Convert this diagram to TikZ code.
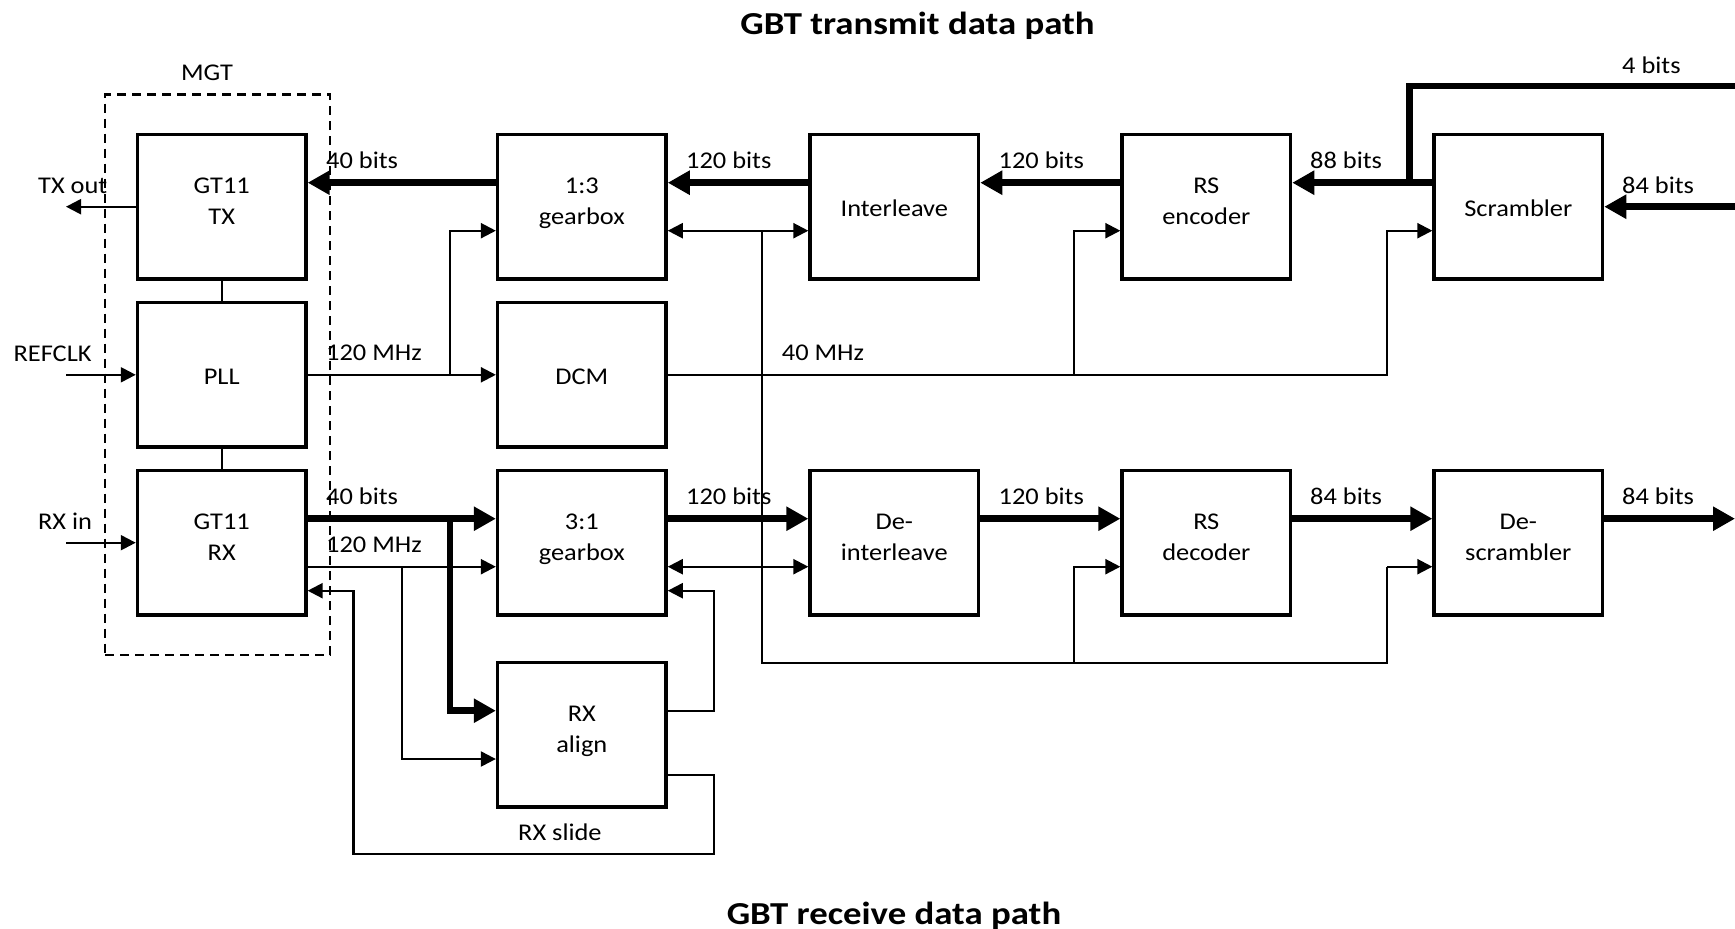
\documentclass[tikz,border=0pt]{standalone}
\usepackage{fontspec}
\setmainfont{Carlito}[FakeStretch=1.10]
\newfontfamily\hdrfont{Carlito}[FakeStretch=1.15]
\usetikzlibrary{arrows.meta,calc}

% block caption: centred lines, nudged vertically without changing the box extent
\newcommand\bx[2][4pt]{\raisebox{#1}[\height][\depth]{\begin{tabular}{@{}c@{}}#2\end{tabular}}}

\begin{document}
\begin{tikzpicture}[x=1pt,y=-1pt,
  blk/.style={draw,line width=3.3pt,minimum width=168.6pt,minimum height=144.6pt,
    inner sep=0pt,font=\fontsize{24}{31.5}\selectfont},
  lbl/.style={anchor=base west,inner sep=0pt,font=\fontsize{24}{28}\selectfont},
  hdr/.style={anchor=base,inner sep=0pt,font=\hdrfont\bfseries\fontsize{32}{38}\selectfont},
  mgtbox/.style={draw,line width=2.5pt,dash pattern=on 9pt off 6pt,
    minimum width=225pt,minimum height=560.7pt,inner sep=0pt},
  wire/.style={line width=2.2pt},
  bus/.style={line width=6.5pt},
  sig/.style={wire,-{Triangle[length=15pt,width=15pt]}},
  sigboth/.style={wire,{Triangle[length=15pt,width=15pt]}-{Triangle[length=15pt,width=15pt]}},
  data/.style={bus,-{Triangle[length=22pt,width=23pt]}},
]
\useasboundingbox (0,0) rectangle (1735,929);

% titles
\node[hdr] (ttx) at (917.5,34) {GBT transmit data path};
\node[hdr] (trx) at (894,924.3) {GBT receive data path};

% MGT container
\node[mgtbox] (mgt) at (217.5,374.7) {};
\node[anchor=base,inner sep=0pt,font=\fontsize{24}{28}\selectfont] (mgtl) at (207,80.7) {MGT};

% blocks
\node[blk] (tx)  at (221.7,206.7) {\bx{GT11\\TX}};
\node[blk] (pll) at (221.7,374.8) {\bx[-3.5pt]{PLL}};
\node[blk] (rx)  at (221.7,542.7) {\bx{GT11\\RX}};
\node[blk] (gb1) at (581.8,206.7) {\bx{1:3\\gearbox}};
\node[blk] (dcm) at (581.8,374.8) {\bx[-3.5pt]{DCM}};
\node[blk] (gb3) at (581.8,542.7) {\bx{3:1\\gearbox}};
\node[blk] (al)  at (581.8,734.7) {\bx{RX\\align}};
\node[blk] (il)  at (894.3,206.7) {\bx[-3.5pt]{Interleave}};
\node[blk] (dil) at (894.3,542.7) {\bx{De-\\interleave}};
\node[blk] (rse) at (1206.3,206.7) {\bx{RS\\encoder}};
\node[blk] (rsd) at (1206.3,542.7) {\bx{RS\\decoder}};
\node[blk] (scr) at (1518.3,206.7) {\bx[-3.5pt]{Scrambler}};
\node[blk] (dsc) at (1518.3,542.7) {\bx{De-\\scrambler}};

% signal levels
\coordinate (r1u) at (0,182.7);
\coordinate (r1d) at (0,230.7);
\coordinate (r3u) at (0,518.7);
\coordinate (r3d) at (0,566.7);
\coordinate (r3f) at (0,590.7);
\coordinate (r4u) at (0,710.7);
\coordinate (r4d) at (0,759);
\coordinate (r4s) at (0,775.3);
\coordinate (ybus) at (0,662.7);
\coordinate (yslide) at (0,854.3);
\coordinate (ytop) at (0,86);
\coordinate (xin) at (66,0);
\coordinate (xs) at (353.5,0);
\coordinate (xb1) at (401.7,0);
\coordinate (xb2) at (450,0);
\coordinate (xf) at (714.3,0);
\coordinate (xc) at (762,0);
\coordinate (xe1) at (1074,0);
\coordinate (xe2) at (1387,0);
\coordinate (xr) at (1409.3,0);
\coordinate (xend) at (1735,0);

% MGT internals and external pins
\draw[wire] (tx.south) -- (pll.north);
\draw[wire] (pll.south) -- (rx.north);
\draw[sig] (tx.west) -- (xin |- tx.west);
\draw[sig] (xin |- pll.west) -- (pll.west);
\draw[sig] (xin |- rx.west) -- (rx.west);
\node[lbl] (ltxo) at (38,193.3) {TX out};
\node[lbl] (lref) at (13.4,361.7) {REFCLK};
\node[lbl] (lrxi) at (37.8,529.3) {RX in};

% transmit data path
\draw[bus] (xend |- ytop) -- (xr |- ytop) -- (xr |- r1u);
\draw[data] (xend |- scr.east) -- (scr.east);
\draw[data] (scr.west |- r1u) -- (rse.east |- r1u);
\draw[data] (rse.west |- r1u) -- (il.east |- r1u);
\draw[data] (il.west |- r1u) -- (gb1.east |- r1u);
\draw[data] (gb1.west |- r1u) -- (tx.east |- r1u);
\node[lbl] (l4b)  at (1622,73.3) {4 bits};
\node[lbl] (l84t) at (1622,193.3) {84 bits};
\node[lbl] (l88)  at (1310,168.7) {88 bits};
\node[lbl] (l120a) at (998.5,168.7) {120 bits};
\node[lbl] (l120b) at (686,168.7) {120 bits};
\node[lbl] (l40t) at (326,168.7) {40 bits};

% clocks
\draw[sig] (pll.east) -- (dcm.west);
\draw[sig] (xb2 |- pll.east) -- (xb2 |- r1d) -- (gb1.west |- r1d);
\node[lbl] (l120m) at (326,360.3) {120 MHz};
\draw[sig] (dcm.east) -- (xe2 |- dcm.east) -- (xe2 |- r1d) -- (scr.west |- r1d);
\draw[sig] (xe1 |- dcm.east) -- (xe1 |- r1d) -- (rse.west |- r1d);
\node[lbl] (l40m) at (781.7,360.3) {40 MHz};
\draw[sigboth] (gb1.east |- r1d) -- (il.west |- r1d);
\draw[wire] (xc |- r1d) -- (xc |- ybus) -- (xe2 |- ybus) -- (xe2 |- r3d);
\draw[sig] (xe2 |- r3d) -- (dsc.west |- r3d);
\draw[sig] (xe1 |- ybus) -- (xe1 |- r3d) -- (rsd.west |- r3d);
\draw[sigboth] (gb3.east |- r3d) -- (dil.west |- r3d);

% receive data path
\draw[data] (rx.east |- r3u) -- (gb3.west |- r3u);
\draw[data] (xb2 |- r3u) -- (xb2 |- r4u) -- (al.west |- r4u);
\draw[sig] (rx.east |- r3d) -- (gb3.west |- r3d);
\draw[sig] (xb1 |- r3d) -- (xb1 |- r4d) -- (al.west |- r4d);
\node[lbl] (l40r) at (326,504.7) {40 bits};
\node[lbl] (l120r) at (326,552.7) {120 MHz};
\draw[sig] (al.east |- r4u) -- (xf |- r4u) -- (xf |- r3f) -- (gb3.east |- r3f);
\draw[sig] (al.east |- r4s) -- (xf |- r4s) -- (xf |- yslide) -- (xs |- yslide)
  -- (xs |- r3f) -- (rx.east |- r3f);
\node[lbl] (lslide) at (518,840.3) {RX slide};
\draw[data] (gb3.east |- r3u) -- (dil.west |- r3u);
\draw[data] (dil.east |- r3u) -- (rsd.west |- r3u);
\draw[data] (rsd.east |- r3u) -- (dsc.west |- r3u);
\draw[data] (dsc.east |- r3u) -- (xend |- r3u);
\node[lbl] (l120c) at (686,504.7) {120 bits};
\node[lbl] (l120d) at (998.5,504.7) {120 bits};
\node[lbl] (l84a) at (1310,504.7) {84 bits};
\node[lbl] (l84b) at (1622,504.7) {84 bits};
\end{tikzpicture}
\end{document}
